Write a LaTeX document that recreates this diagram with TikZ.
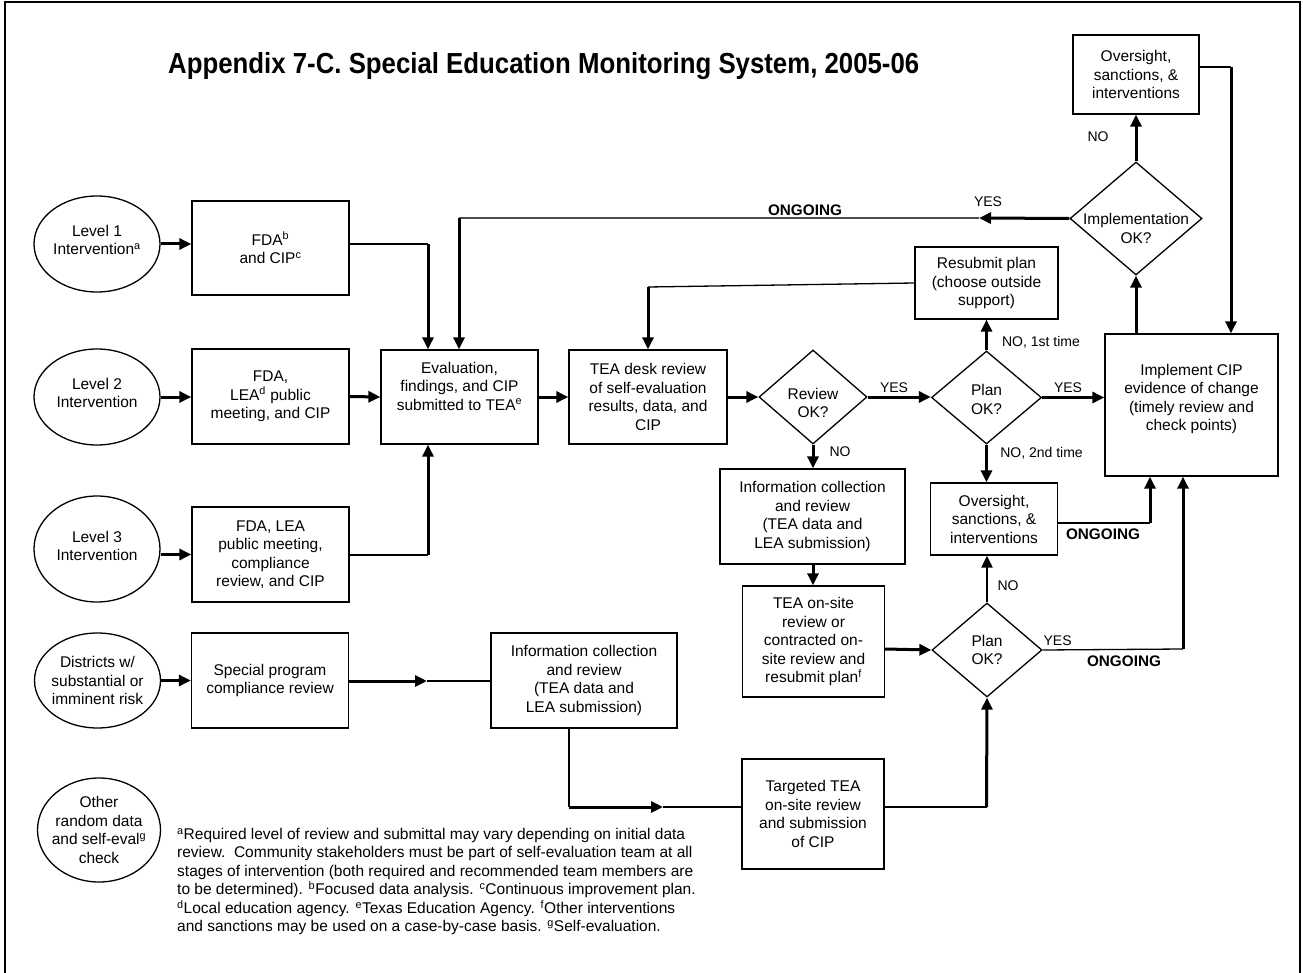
\documentclass[tikz,border=0pt]{standalone}
\usepackage{fontspec}
\setmainfont{Liberation Sans}
\usepackage{graphicx}
\usetikzlibrary{shapes.geometric,arrows.meta}
\begin{document}
\begin{tikzpicture}[x=1pt,y=-1pt,
  txt/.style={font=\fontsize{15.5}{18.5}\selectfont, align=center},
  box/.style={txt, draw, line width=1.3pt, rectangle, inner sep=0pt},
  ell/.style={draw, line width=1.3pt, ellipse, inner sep=0pt},
  dia/.style={draw, line width=1.3pt, diamond, inner sep=0pt},
  lab/.style={font=\fontsize{14}{16}\selectfont, inner sep=0pt},
  ong/.style={font=\bfseries\fontsize{15.3}{18}\selectfont, inner sep=0pt},
  thn/.style={line width=1.3pt},
  arr/.style={line width=3pt, -{Triangle[length=12pt,width=11pt]}},
  marr/.style={line width=2pt, -{Triangle[length=12pt,width=11pt]}},
]
\useasboundingbox (0,0) rectangle (1303,973);
% frame
\draw[line width=2.5pt] (5,980) -- (5,2) -- (1300,2) -- (1300,980);

% title
\node[anchor=base west, inner sep=0pt] (title) at (168,74)
  {\resizebox{751pt}{\height}{\fontsize{29}{34}\selectfont\bfseries Appendix 7-C. Special Education Monitoring System, 2005-06}};

% ellipses
\node[ell, minimum width=126pt, minimum height=96pt,
  label={[txt, yshift=4pt]center:Level 1\\Intervention\textsuperscript{a}}] (e1) at (97,244) {};
\node[ell, minimum width=126pt, minimum height=96pt,
  label={[txt, yshift=4pt]center:Level 2\\Intervention}] (e2) at (97,397) {};
\node[ell, minimum width=126pt, minimum height=106pt,
  label={[txt, yshift=3pt]center:Level 3\\Intervention}] (e3) at (97,549) {};
\node[ell, minimum width=126pt, minimum height=95pt,
  label={[txt]center:Districts w/\\substantial or\\imminent risk}] (e4) at (97.5,680.5) {};
\node[ell, minimum width=123pt, minimum height=104pt,
  label={[txt]center:Other\\random data\\and self-eval\textsuperscript{g}\\check}] (e5) at (99,830) {};

% boxes column 2
\node[box, minimum width=157pt, minimum height=94pt] (b1) at (270.5,248) {FDA\textsuperscript{b}\\and CIP\textsuperscript{c}};
\node[box, minimum width=157pt, minimum height=95pt] (b2) at (270.5,396.5) {FDA,\\LEA\textsuperscript{d} public\\meeting, and CIP};
\node[box, minimum width=157pt, minimum height=95pt] (b3) at (270.5,554.5) {FDA, LEA\\public meeting,\\compliance\\review, and CIP};
\node[box, minimum width=157pt, minimum height=95pt] (sp) at (270,680.5) {Special program\\compliance review};

% main row
\node[box, minimum width=157pt, minimum height=94pt,
  label={[txt, yshift=11pt]center:Evaluation,\\findings, and CIP\\submitted to TEA\textsuperscript{e}}] (ev) at (459.5,397) {};
\node[box, minimum width=158pt, minimum height=94pt] (desk) at (648,397) {TEA desk review\\of self-evaluation\\results, data, and\\CIP};
\node[dia, minimum width=108pt, minimum height=94pt,
  label={[txt, yshift=-6pt]center:Review\\OK?}] (rev) at (813,397) {};
\node[dia, minimum width=110pt, minimum height=93pt,
  label={[txt, yshift=-2pt]center:Plan\\OK?}] (p1) at (986.5,397.5) {};
\node[box, minimum width=173pt, minimum height=142pt,
  label={[txt, yshift=6pt]center:Implement CIP\\evidence of change\\(timely review and\\check points)}] (impl) at (1191.5,405) {};

% upper right
\node[box, minimum width=143pt, minimum height=72pt] (resub) at (986.5,283) {Resubmit plan\\(choose outside\\support)};
\node[dia, minimum width=132pt, minimum height=113pt,
  label={[txt, yshift=-10pt]center:Implementation\\OK?}] (idia) at (1136,218.5) {};
\node[box, minimum width=126pt, minimum height=79pt] (ov1) at (1136,74.5) {Oversight,\\sanctions, \&\\interventions};

% lower middle
\node[box, minimum width=185pt, minimum height=95pt] (inf1) at (812.5,516.5) {Information collection\\and review\\(TEA data and\\LEA submission)};
\node[box, minimum width=142pt, minimum height=111pt] (onsite) at (813.5,641.5) {TEA on-site\\review or\\contracted on-\\site review and\\resubmit plan\textsuperscript{f}};
\node[box, minimum width=127pt, minimum height=72pt] (ov2) at (994,519) {Oversight,\\sanctions, \&\\interventions};
\node[dia, minimum width=110pt, minimum height=94pt,
  label={[txt]center:Plan\\OK?}] (p2) at (987,650) {};
\node[box, minimum width=186pt, minimum height=95pt] (inf2) at (584,680.5) {Information collection\\and review\\(TEA data and\\LEA submission)};
\node[box, minimum width=142pt, minimum height=110pt] (targ) at (813,814) {Targeted TEA\\on-site review\\and submission\\of CIP};

% coordinates
\coordinate (c1) at (428,244);
\coordinate (c2) at (428,555);
\coordinate (c3) at (979,218);
\coordinate (c4) at (459,218);
\coordinate (c5) at (648,287);
\coordinate (c6) at (1150,523);
\coordinate (c7) at (1183,649);
\coordinate (c8) at (1231,67);
\coordinate (c9) at (427,681);
\coordinate (c10) at (569,807);
\coordinate (c11) at (663,807);
\coordinate (c12) at (986.5,807);
\coordinate (c13) at (884,649);

% connectors
\draw[arr] (e1.east) -- (e1.east -| b1.west);
\draw[arr] (e2.east) -- (e2.east -| b2.west);
\draw[arr] (e3.east |- b3.west) -- (b3.west);
\draw[arr] (e4.east) -- (sp.west);

\draw[thn] (b1.east |- c1) -- (c1);
\draw[arr] (c1) -- (c1 |- ev.north);
\draw[arr] (b2.east) -- (ev.west);
\draw[thn] (b3.east |- c2) -- (c2);
\draw[arr] (c2) -- (c2 |- ev.south);

\draw[arr] (ev.east) -- (desk.west);
\draw[arr] (desk.east) -- (rev.west);
\draw[arr] (rev.east) -- (rev.east -| p1.west);
\draw[arr] (p1.east) -- (p1.east -| impl.west);
\draw[arr] (p1.north) -- (resub.south);
\draw[thn] (resub.west) -- (c5);
\draw[arr] (c5) -- (desk.north);
\draw[arr] (p1.south) -- (p1.south |- ov2.north);
\draw[arr] (rev.south) -- (rev.south |- inf1.north);
\draw[arr] (inf1.south -| rev.south) -- (rev.south |- onsite.north);
\draw[arr] (onsite.east |- c13) -- (p2.west);
\draw[marr] (p2.north) -- (p2.north |- ov2.south);
\draw[thn] (ov2.east |- c6) -- (c6);
\draw[arr] (c6) -- (c6 |- impl.south);
\draw[thn] (p2.east) -- (c7);
\draw[arr] (c7) -- (c7 |- impl.south);
\draw[arr] (idia.south |- impl.north) -- (idia.south);
\draw[arr] (idia.north) -- (ov1.south);
\draw[line width=2pt] (ov1.east |- c8) -- (c8);
\draw[arr] (c8) -- (c8 |- impl.north);
\draw[arr] (idia.west) -- (c3);
\draw[line width=1.6pt, black!70] (c3) -- (c4);
\draw[arr] (c4) -- (c4 |- ev.north);

\draw[arr] (sp.east |- c9) -- (c9);
\draw[thn] (c9) -- (c9 -| inf2.west);
\draw[thn] (inf2.south -| c10) -- (c10);
\draw[arr] (c10) -- (c11);
\draw[thn] (c11) -- (c11 -| targ.west);
\draw[thn] (targ.east |- c12) -- (c12);
\draw[arr] (c12) -- (p2.south);

% labels
\node[lab] (l1) at (894,388) {YES};
\node[lab] (l2) at (1068,388) {YES};
\node[lab] (l3) at (840,452) {NO};
\node[lab] (l4) at (1041,342) {NO, 1st time};
\node[lab] (l5) at (1041.5,453) {NO, 2nd time};
\node[lab] (l6) at (1008,586) {NO};
\node[lab] (l7) at (1057.6,641) {YES};
\node[lab] (l8) at (988,202) {YES};
\node[lab] (l9) at (1098,137) {NO};
\node[ong] (o1) at (805,210) {ONGOING};
\node[ong] (o2) at (1103,534) {ONGOING};
\node[ong] (o3) at (1124,661) {ONGOING};

% footnote
\node[anchor=north west, inner sep=0pt, align=left, font=\fontsize{15.5}{18.5}\selectfont] (fn) at (177,828)
{\textsuperscript{a}Required level of review and submittal may vary depending on initial data\\
review.\ \ Community stakeholders must be part of self-evaluation team at all\\
stages of intervention (both required and recommended team members are\\
to be determined). \textsuperscript{b}Focused data analysis. \textsuperscript{c}Continuous improvement plan.\\
\textsuperscript{d}Local education agency. \textsuperscript{e}Texas Education Agency. \textsuperscript{f}Other interventions\\
and sanctions may be used on a case-by-case basis. \textsuperscript{g}Self-evaluation.};
\end{tikzpicture}
\end{document}
